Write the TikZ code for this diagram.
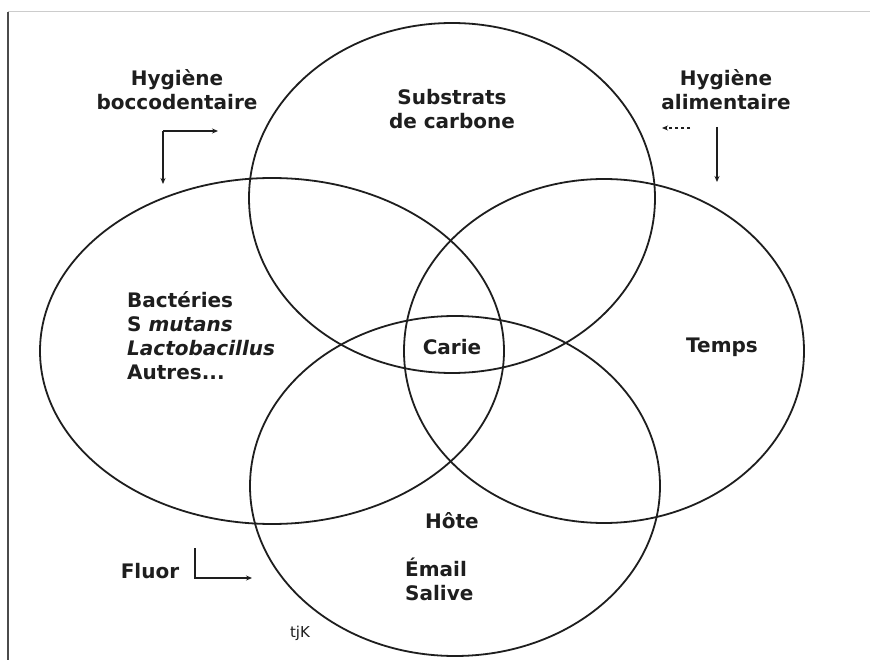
\documentclass[tikz,border=0pt]{standalone}
\usepackage{fontspec}
\setmainfont{DejaVu Sans}
\usetikzlibrary{arrows.meta}
\definecolor{ink}{HTML}{1E1E1E}
\tikzset{
  venn/.style={draw=ink, line width=1.8pt},
  lbl/.style={text=ink, font=\fontsize{20}{24}\selectfont\bfseries, align=center, inner sep=0pt},
  lbll/.style={lbl, align=left},
  ctrl/.style={draw=ink, line width=1.3pt},
  tip/.style={-{Stealth[length=6pt,width=5pt]}},
}
\begin{document}
\begin{tikzpicture}[x=1pt,y=-1pt]
\useasboundingbox (0,0) rectangle (870,660);
\fill[white] (0,0) rectangle (870,660);
% page border of the scan
\draw[gray!40, line width=1pt] (8,12) -- (870,12);
\draw[ink!80, line width=2pt] (8,12) -- (8,660);
% the four circles
\draw[venn] (452,198) ellipse [x radius=203pt, y radius=175pt];
\draw[venn] (272,351) ellipse [x radius=232pt, y radius=173pt];
\draw[venn] (604,351) ellipse [x radius=200pt, y radius=172pt];
\draw[venn] (455,486) ellipse [x radius=205pt, y radius=170pt];
% labels
\node[lbl] (hyg1) at (177,90) {Hygiène\\boccodentaire};
\node[lbl] (hyg2) at (726,90) {Hygiène\\alimentaire};
\node[lbl] (subs) at (452,109) {Substrats\\de carbone};
\node[lbll, anchor=west] (bact) at (127,336) {Bactéries\\S \textit{mutans}\\\textit{Lactobacillus}\\Autres...};
\node[lbl] (carie) at (452,347) {Carie};
\node[lbl] (temps) at (722,347) {Temps};
\node[lbl] (hote) at (452,521) {Hôte};
\node[lbll, anchor=west] (email) at (405,579) {Émail\\Salive};
\node[lbl] (fluor) at (150,571) {Fluor};
\node[text=ink, font=\fontsize{15}{18}\selectfont, inner sep=0pt] (tjk) at (300,633) {tjK};
% arrows
\coordinate (a1c) at (163,131);
\coordinate (a1h) at (218,131);
\coordinate (a1v) at (163,184);
\draw[ctrl, tip] (a1c) -- (a1v);
\draw[ctrl, tip] (a1c) -- (a1h);
\coordinate (a2s) at (690,128);
\coordinate (a2e) at (662,128);
\draw[ctrl, dashed, tip] (a2s) -- (a2e);
\coordinate (a3s) at (717,127);
\coordinate (a3e) at (717,182);
\draw[ctrl, tip] (a3s) -- (a3e);
\coordinate (f1t) at (195,548);
\coordinate (f1c) at (195,578);
\coordinate (f1e) at (252,578);
\draw[ctrl, tip] (f1t) -- (f1c) -- (f1e);
\end{tikzpicture}
\end{document}
